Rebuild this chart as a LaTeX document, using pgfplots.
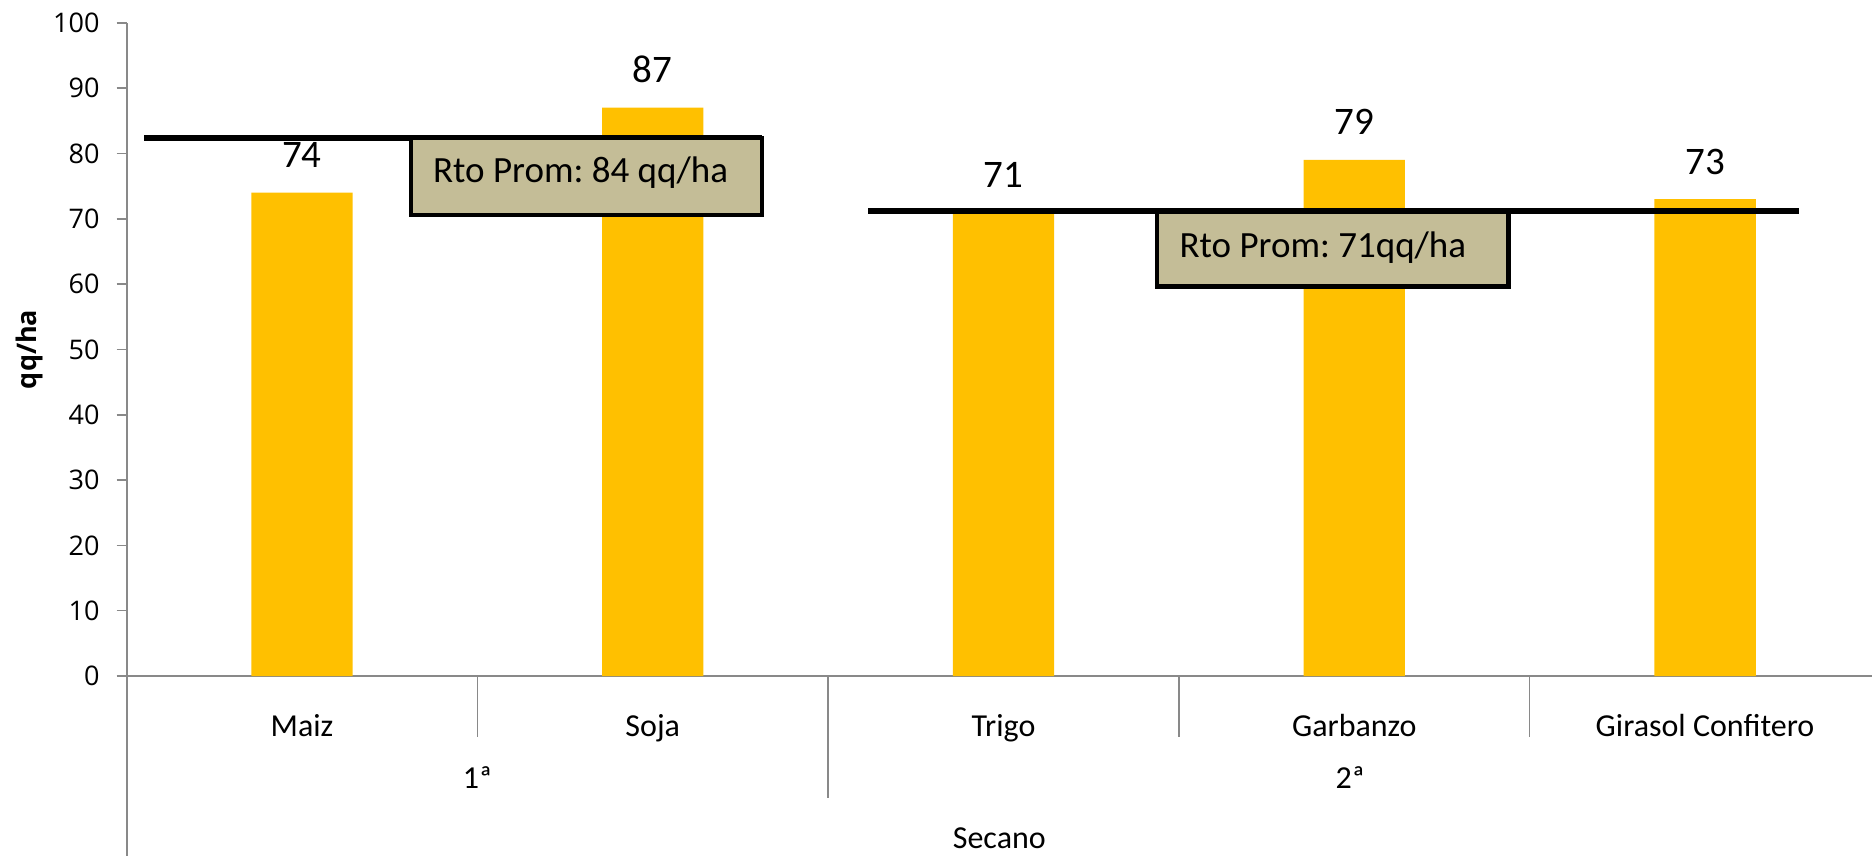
\documentclass[border=0pt]{standalone}
\usepackage{pgfplots}
\pgfplotsset{compat=1.18}
\usepackage{fontspec}
\setmainfont{Carlito}
\newfontfamily\tickfont{Open Sans}
\definecolor{bargold}{HTML}{FFC000}
\definecolor{boxtan}{HTML}{C4BD97}
\definecolor{axgray}{HTML}{898989}
\frenchspacing
\begin{document}
\begin{tikzpicture}
\begin{axis}[
  at={(0,0)}, anchor=south west,
  scale only axis, width=872.7pt, height=326.6pt,
  xmin=-0.5, xmax=4.476, ymin=0, ymax=100,
  axis lines=left, axis line style={-, axgray, line width=1pt},
  ytick={0,10,...,100},
  xtick={0,1,2,3,4},
  xticklabels={Maiz,Soja,Trigo,Garbanzo,Girasol Confitero},
  x tick label style={font=\fontsize{16}{19}\selectfont, anchor=base, yshift=-25.3pt},
  major x tick style={draw=none},
  y tick label style={font=\tickfont\fontsize{13.5}{16}\selectfont, xshift=-5pt},
  tick align=outside, major tick length=5pt,
  ytick style={axgray, line width=0.8pt},
  /pgf/number format/assume math mode=true,
  ylabel={qq/ha},
  ylabel style={font=\tickfont\bfseries\fontsize{13.5}{16}\selectfont, at={(axis description cs:-0.0559,0.5)}, anchor=center},
  clip=false,
]
\addplot[ybar, bar width=50.7pt, fill=bargold, draw=none,
  nodes near coords,
  nodes near coords style={font=\fontsize{19.5}{23}\selectfont, anchor=base, yshift=12.5pt, text=black}]
  coordinates {(0,74) (1,87) (2,71) (3,79) (4,73)};
% average lines
\addplot[black, line width=2.8pt, sharp plot, mark=none] coordinates {(-0.449,82.4) (1.311,82.4)};
\addplot[black, line width=2.8pt, sharp plot, mark=none] coordinates {(1.614,71.2) (4.268,71.2)};
% boxes
\draw[black, line width=2.2pt, fill=boxtan] (axis cs:0.311,70.6) rectangle (axis cs:1.311,82.4);
\node[anchor=base west, inner sep=0pt, xshift=10.8pt, font=\fontsize{18.5}{22}\selectfont] at (axis cs:0.311,75.5) {Rto Prom: 84 qq/ha};
\draw[black, line width=2.2pt, fill=boxtan] (axis cs:2.438,59.6) rectangle (axis cs:3.44,71.0);
\node[anchor=base west, inner sep=0pt, xshift=11pt, font=\fontsize{18.5}{22}\selectfont] at (axis cs:2.438,64.0) {Rto Prom: 71qq/ha};
% category separators
\draw[axgray, line width=1pt] (axis cs:-0.5,0) -- ([yshift=-90pt]axis cs:-0.5,0);
\draw[axgray, line width=0.8pt] (axis cs:0.5,0) -- ([yshift=-30.35pt]axis cs:0.5,0);
\draw[axgray, line width=0.8pt] (axis cs:1.5,0) -- ([yshift=-60.85pt]axis cs:1.5,0);
\draw[axgray, line width=0.8pt] (axis cs:2.5,0) -- ([yshift=-30.35pt]axis cs:2.5,0);
\draw[axgray, line width=0.8pt] (axis cs:3.5,0) -- ([yshift=-30.35pt]axis cs:3.5,0);
% group labels
\node[anchor=base, font=\fontsize{16}{19}\selectfont, yshift=-56pt] at (axis cs:0.5,0) {1ª};
\node[anchor=base, font=\fontsize{16}{19}\selectfont, yshift=-56pt] at (axis cs:2.988,0) {2ª};
\node[anchor=base, font=\fontsize{16}{19}\selectfont, yshift=-86pt] at (axis cs:1.988,0) {Secano};
\end{axis}
\pgfresetboundingbox
\path (-63.3pt,-90pt) rectangle (872.7pt,338pt);
\end{tikzpicture}
\end{document}
